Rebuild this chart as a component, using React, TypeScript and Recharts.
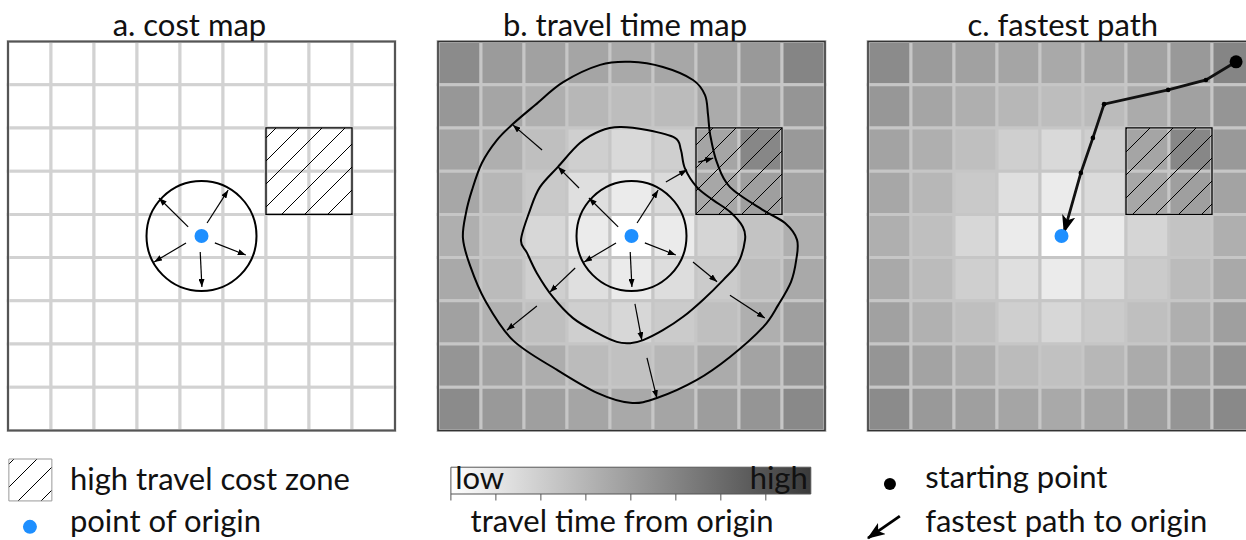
import { ComposedChart, XAxis, YAxis, Line, ReferenceArea, ReferenceLine, ReferenceDot } from "recharts";

const FONT = "Lato, 'Open Sans', sans-serif";

const panelTitles = ["a. cost map", "b. travel time map", "c. fastest path"];
const panelOffsets = [0, 10, 20];

// travel time from origin per cell (rows top -> bottom, cols left -> right)
const travelTime = [
  [58, 50, 47, 45, 43, 44, 47, 51, 61],
  [52, 45, 40, 36, 33, 34, 42, 47, 53],
  [46, 40, 32, 24, 19, 24, 45, 60, 51],
  [44, 36, 27, 16, 10, 18, 44, 48, 46],
  [40, 32, 20, 10, 0, 10, 21, 30, 40],
  [43, 34, 24, 16, 10, 17, 26, 34, 43],
  [47, 39, 32, 24, 20, 26, 32, 40, 48],
  [53, 46, 41, 34, 31, 36, 42, 46, 54],
  [58, 51, 48, 45, 43, 45, 49, 53, 59],
];

const origin = [4.5, 4.5];
const highCostZone = [6, 2, 8, 4]; // col1,row1,col2,row2

// travel-time contours (panel b)
const middleContour = [
  [1.93, 4.59], [2.14, 3.9], [2.37, 3.37], [2.79, 2.9], [3.3, 2.35], [3.77, 2.07], [4.23, 1.98],
  [4.86, 2.05], [5.51, 2.23], [5.65, 2.51], [5.74, 2.93], [6.02, 3.37], [6.4, 3.67], [6.79, 3.94],
  [7.09, 4.29], [7.14, 4.59], [6.98, 5.12], [6.63, 5.52], [6.16, 5.98], [5.7, 6.37], [5.23, 6.68],
  [4.77, 6.91], [4.47, 6.98], [4.16, 6.95], [3.7, 6.74], [3.14, 6.4], [2.67, 5.91], [2.3, 5.36], [2.07, 4.89],
];
const outerContour = [
  [0.58, 4.55], [0.65, 3.97], [0.79, 3.44], [1.02, 2.81], [1.37, 2.28], [1.74, 1.91], [2.26, 1.47],
  [2.91, 0.94], [3.77, 0.54], [4.47, 0.47], [5.23, 0.59], [5.93, 0.89], [6.21, 1.24], [6.28, 1.7],
  [6.33, 2.16], [6.49, 2.81], [6.79, 3.37], [7.56, 3.9], [8.07, 4.2], [8.35, 4.59], [8.33, 5.06],
  [8.21, 5.56], [7.91, 6.1], [7.56, 6.61], [6.79, 7.3], [6.02, 7.83], [5.09, 8.25], [4.47, 8.36],
  [3.7, 8.13], [2.77, 7.6], [1.74, 6.91], [1.09, 5.98], [0.74, 5.17],
];

// spread arrows [x1, y1, x2, y2]
const innerArrows = [
  [4.19, 4.29, 3.51, 3.62], [4.63, 4.2, 5.12, 3.44], [4.14, 4.66, 3.4, 5.1],
  [4.47, 4.87, 4.51, 5.68], [4.81, 4.66, 5.53, 4.94],
];
const middleArrows = [
  [3.28, 3.39, 2.79, 2.9], [5.3, 3.25, 5.79, 2.97], [3.19, 5.24, 2.6, 5.8],
  [4.58, 6.07, 4.74, 6.91], [5.93, 5.1, 6.49, 5.56],
];
const outerArrows = [
  [2.42, 2.51, 1.74, 1.93], [6.05, 2.79, 6.4, 2.7], [2.3, 6.12, 1.6, 6.68],
  [4.86, 7.32, 5.09, 8.25], [6.79, 5.87, 7.6, 6.4],
];

// fastest path (panel c), start -> origin
const fastestPath = [
  [8.56, 0.47], [7.86, 0.89], [6.98, 1.12], [5.49, 1.45], [5.23, 2.23], [4.95, 3.04], [4.56, 4.41],
];

const colorbarTicks = [0, 12.5, 25, 37.5, 50, 62.5, 75, 87.5];

const gray = (t: number) => {
  const g = Math.max(0, Math.min(255, Math.round(255 - 2 * t)));
  const h = g.toString(16).padStart(2, "0");
  return `#${h}${h}${h}`;
};

// closed Catmull-Rom curve for the contours
const closedCurve = (ctx: any) => {
  let pts: number[][] = [];
  return {
    areaStart() {},
    areaEnd() {},
    lineStart() { pts = []; },
    point(x: number, y: number) { pts.push([x, y]); },
    lineEnd() {
      const n = pts.length;
      if (!n) return;
      ctx.moveTo(pts[0][0], pts[0][1]);
      for (let i = 0; i < n; i++) {
        const p0 = pts[(i + n - 1) % n], p1 = pts[i], p2 = pts[(i + 1) % n], p3 = pts[(i + 2) % n];
        ctx.bezierCurveTo(
          p1[0] + (p2[0] - p0[0]) / 6, p1[1] + (p2[1] - p0[1]) / 6,
          p2[0] - (p3[0] - p1[0]) / 6, p2[1] - (p3[1] - p1[1]) / 6,
          p2[0], p2[1]);
      }
      ctx.closePath();
    },
  };
};

const X_DOMAIN = [-8 / 43, 1238 / 43];
const Y_DOMAIN = [-41.5 / 43.22, 498.5 / 43.22];
const CB = [10.3, 18.67, 9.85, 10.47];

function Txt({ x, y, text, anchor = "start", size = 31 }: { x: number; y: number; text: string; anchor?: string; size?: number }) {
  return (
    <ReferenceDot x={x} y={y} r={1} fill="none" stroke="none" ifOverflow="visible"
      label={(p: any) => {
        const vb = p.viewBox;
        return (
          <text x={vb.x + vb.width / 2} y={vb.y + vb.height / 2} textAnchor={anchor as any}
            fontSize={size} fontFamily={FONT} fill="#111">{text}</text>
        );
      }} />
  );
}

const arrowLines = (arr: number[][], off: number, key: string) =>
  arr.map((a, i) => (
    <ReferenceLine key={`${key}${i}`} segment={[{ x: off + a[0], y: a[1] }, { x: off + a[2], y: a[3] }]}
      stroke="#000" strokeWidth={1.2} markerEnd="url(#smallHead)" ifOverflow="visible" />
  ));

const cells = (off: number, shaded: boolean) =>
  travelTime.flatMap((row, r) => row.map((t, c) => (
    <ReferenceArea key={`c${off}-${r}-${c}`} x1={off + c} x2={off + c + 1} y1={r} y2={r + 1}
      fill={shaded ? gray(t) : "#ffffff"} fillOpacity={1}
      stroke={shaded ? "#c6c6c6" : "#d2d2d2"} strokeWidth={3} ifOverflow="visible" />
  )));

const toPts = (arr: number[][], off: number) => arr.map(p => ({ x: off + p[0], y: p[1] }));

export default function App() {
  const [a, b, c] = panelOffsets;
  return (
    <div style={{ position: "absolute", left: 0, top: 0, width: 1246, height: 540, background: "#fff" }}>
      <ComposedChart width={1246} height={540} margin={{ top: 0, right: 0, bottom: 0, left: 0 }}>
        <defs>
          <pattern id="hatch" patternUnits="userSpaceOnUse" width={23} height={23} patternTransform="translate(13,0)">
            <path d="M0,23 L23,0 M-5,5 L5,-5 M18,28 L28,18" stroke="#000" strokeWidth={1} />
          </pattern>
          <linearGradient id="cbar" x1="0" y1="0" x2="1" y2="0">
            <stop offset="0%" stopColor="#ffffff" />
            <stop offset="100%" stopColor="#3a3a3a" />
          </linearGradient>
          <marker id="smallHead" viewBox="0 0 8 6" refX={8} refY={3} markerWidth={8} markerHeight={6}
            markerUnits="userSpaceOnUse" orient="auto">
            <path d="M0,0 L8,3 L0,6 z" fill="#000" />
          </marker>
          <marker id="bigHead" viewBox="0 0 16 12" refX={15} refY={6} markerWidth={18} markerHeight={14}
            markerUnits="userSpaceOnUse" orient="auto">
            <path d="M0,0 L16,6 L0,12 L4,6 z" fill="#000" />
          </marker>
        </defs>
        <XAxis type="number" dataKey="x" domain={X_DOMAIN} hide allowDataOverflow />
        <YAxis type="number" dataKey="y" domain={Y_DOMAIN} hide reversed allowDataOverflow />

        {cells(a, false)}
        {cells(b, true)}
        {cells(c, true)}

        {panelOffsets.map(off => (
          <ReferenceArea key={`hz${off}`} x1={off + highCostZone[0]} x2={off + highCostZone[2]}
            y1={highCostZone[1]} y2={highCostZone[3]} fill="url(#hatch)" fillOpacity={1}
            stroke="#000" strokeWidth={1.3} ifOverflow="visible" />
        ))}
        {panelOffsets.map((off, i) => (
          <ReferenceArea key={`pb${off}`} x1={off} x2={off + 9} y1={0} y2={9} fill="none"
            stroke={i === 0 ? "#555" : "#333"} strokeWidth={i === 0 ? 2 : 1.5} ifOverflow="visible" />
        ))}

        {/* legend: hatch square + colorbar */}
        <ReferenceArea x1={0.02} x2={1.02} y1={9.66} y2={10.63} fill="url(#hatch)" fillOpacity={1}
          stroke="#999" strokeWidth={1} ifOverflow="visible" />
        <ReferenceArea x1={CB[0]} x2={CB[1]} y1={CB[2]} y2={CB[3]} fill="url(#cbar)" fillOpacity={1}
          stroke="#555" strokeWidth={1} ifOverflow="visible" />
        {colorbarTicks.map(t => {
          const x = CB[0] + (t / 100) * (CB[1] - CB[0]);
          return (
            <ReferenceLine key={`tk${t}`} segment={[{ x, y: CB[3] }, { x, y: CB[3] + 0.15 }]}
              stroke="#555" strokeWidth={1} ifOverflow="visible" />
          );
        })}

        <Line data={toPts(middleContour, b)} dataKey="y" type={closedCurve as any} stroke="#000"
          strokeWidth={2} dot={false} activeDot={false} isAnimationActive={false} />
        <Line data={toPts(outerContour, b)} dataKey="y" type={closedCurve as any} stroke="#000"
          strokeWidth={2} dot={false} activeDot={false} isAnimationActive={false} />
        <Line data={toPts(fastestPath, c)} dataKey="y" type="linear" stroke="#111" strokeWidth={2.8}
          markerEnd="url(#bigHead)" activeDot={false} isAnimationActive={false}
          dot={(p: any) => (p.index > 0 && p.index < fastestPath.length - 1
            ? <circle key={`d${p.index}`} cx={p.cx} cy={p.cy} r={2.3} fill="#000" />
            : <g key={`d${p.index}`} />)} />

        {arrowLines(innerArrows, a, "ia")}
        {arrowLines(innerArrows, b, "ib")}
        {arrowLines(middleArrows, b, "m")}
        {arrowLines(outerArrows, b, "o")}
        <ReferenceLine segment={[{ x: 20.74, y: 10.98 }, { x: 20.0, y: 11.49 }]} stroke="#000" strokeWidth={2.8}
          markerEnd="url(#bigHead)" ifOverflow="visible" />

        <ReferenceDot x={a + origin[0]} y={origin[1]} r={55} fill="none" stroke="#000" strokeWidth={2} ifOverflow="visible" />
        <ReferenceDot x={b + origin[0]} y={origin[1]} r={55} fill="none" stroke="#000" strokeWidth={2} ifOverflow="visible" />
        {panelOffsets.map(off => (
          <ReferenceDot key={`o${off}`} x={off + origin[0]} y={origin[1]} r={7} fill="#1e8fff" stroke="none" ifOverflow="visible" />
        ))}
        <ReferenceDot x={c + fastestPath[0][0]} y={fastestPath[0][1]} r={6.5} fill="#000" stroke="none" ifOverflow="visible" />
        <ReferenceDot x={0.51} y={11.23} r={7} fill="#1e8fff" stroke="none" ifOverflow="visible" />
        <ReferenceDot x={20.51} y={10.24} r={6} fill="#000" stroke="none" ifOverflow="visible" />

        <Txt x={4.22} y={-0.12} text={panelTitles[0]} anchor="middle" />
        <Txt x={14.35} y={-0.12} text={panelTitles[1]} anchor="middle" />
        <Txt x={24.53} y={-0.12} text={panelTitles[2]} anchor="middle" />
        <Txt x={1.44} y={10.37} text="high travel cost zone" />
        <Txt x={1.44} y={11.34} text="point of origin" />
        <Txt x={10.4} y={10.35} text="low" />
        <Txt x={18.6} y={10.35} text="high" anchor="end" />
        <Txt x={14.28} y={11.34} text="travel time from origin" anchor="middle" />
        <Txt x={21.33} y={10.33} text="starting point" />
        <Txt x={21.33} y={11.34} text="fastest path to origin" />
      </ComposedChart>
    </div>
  );
}
